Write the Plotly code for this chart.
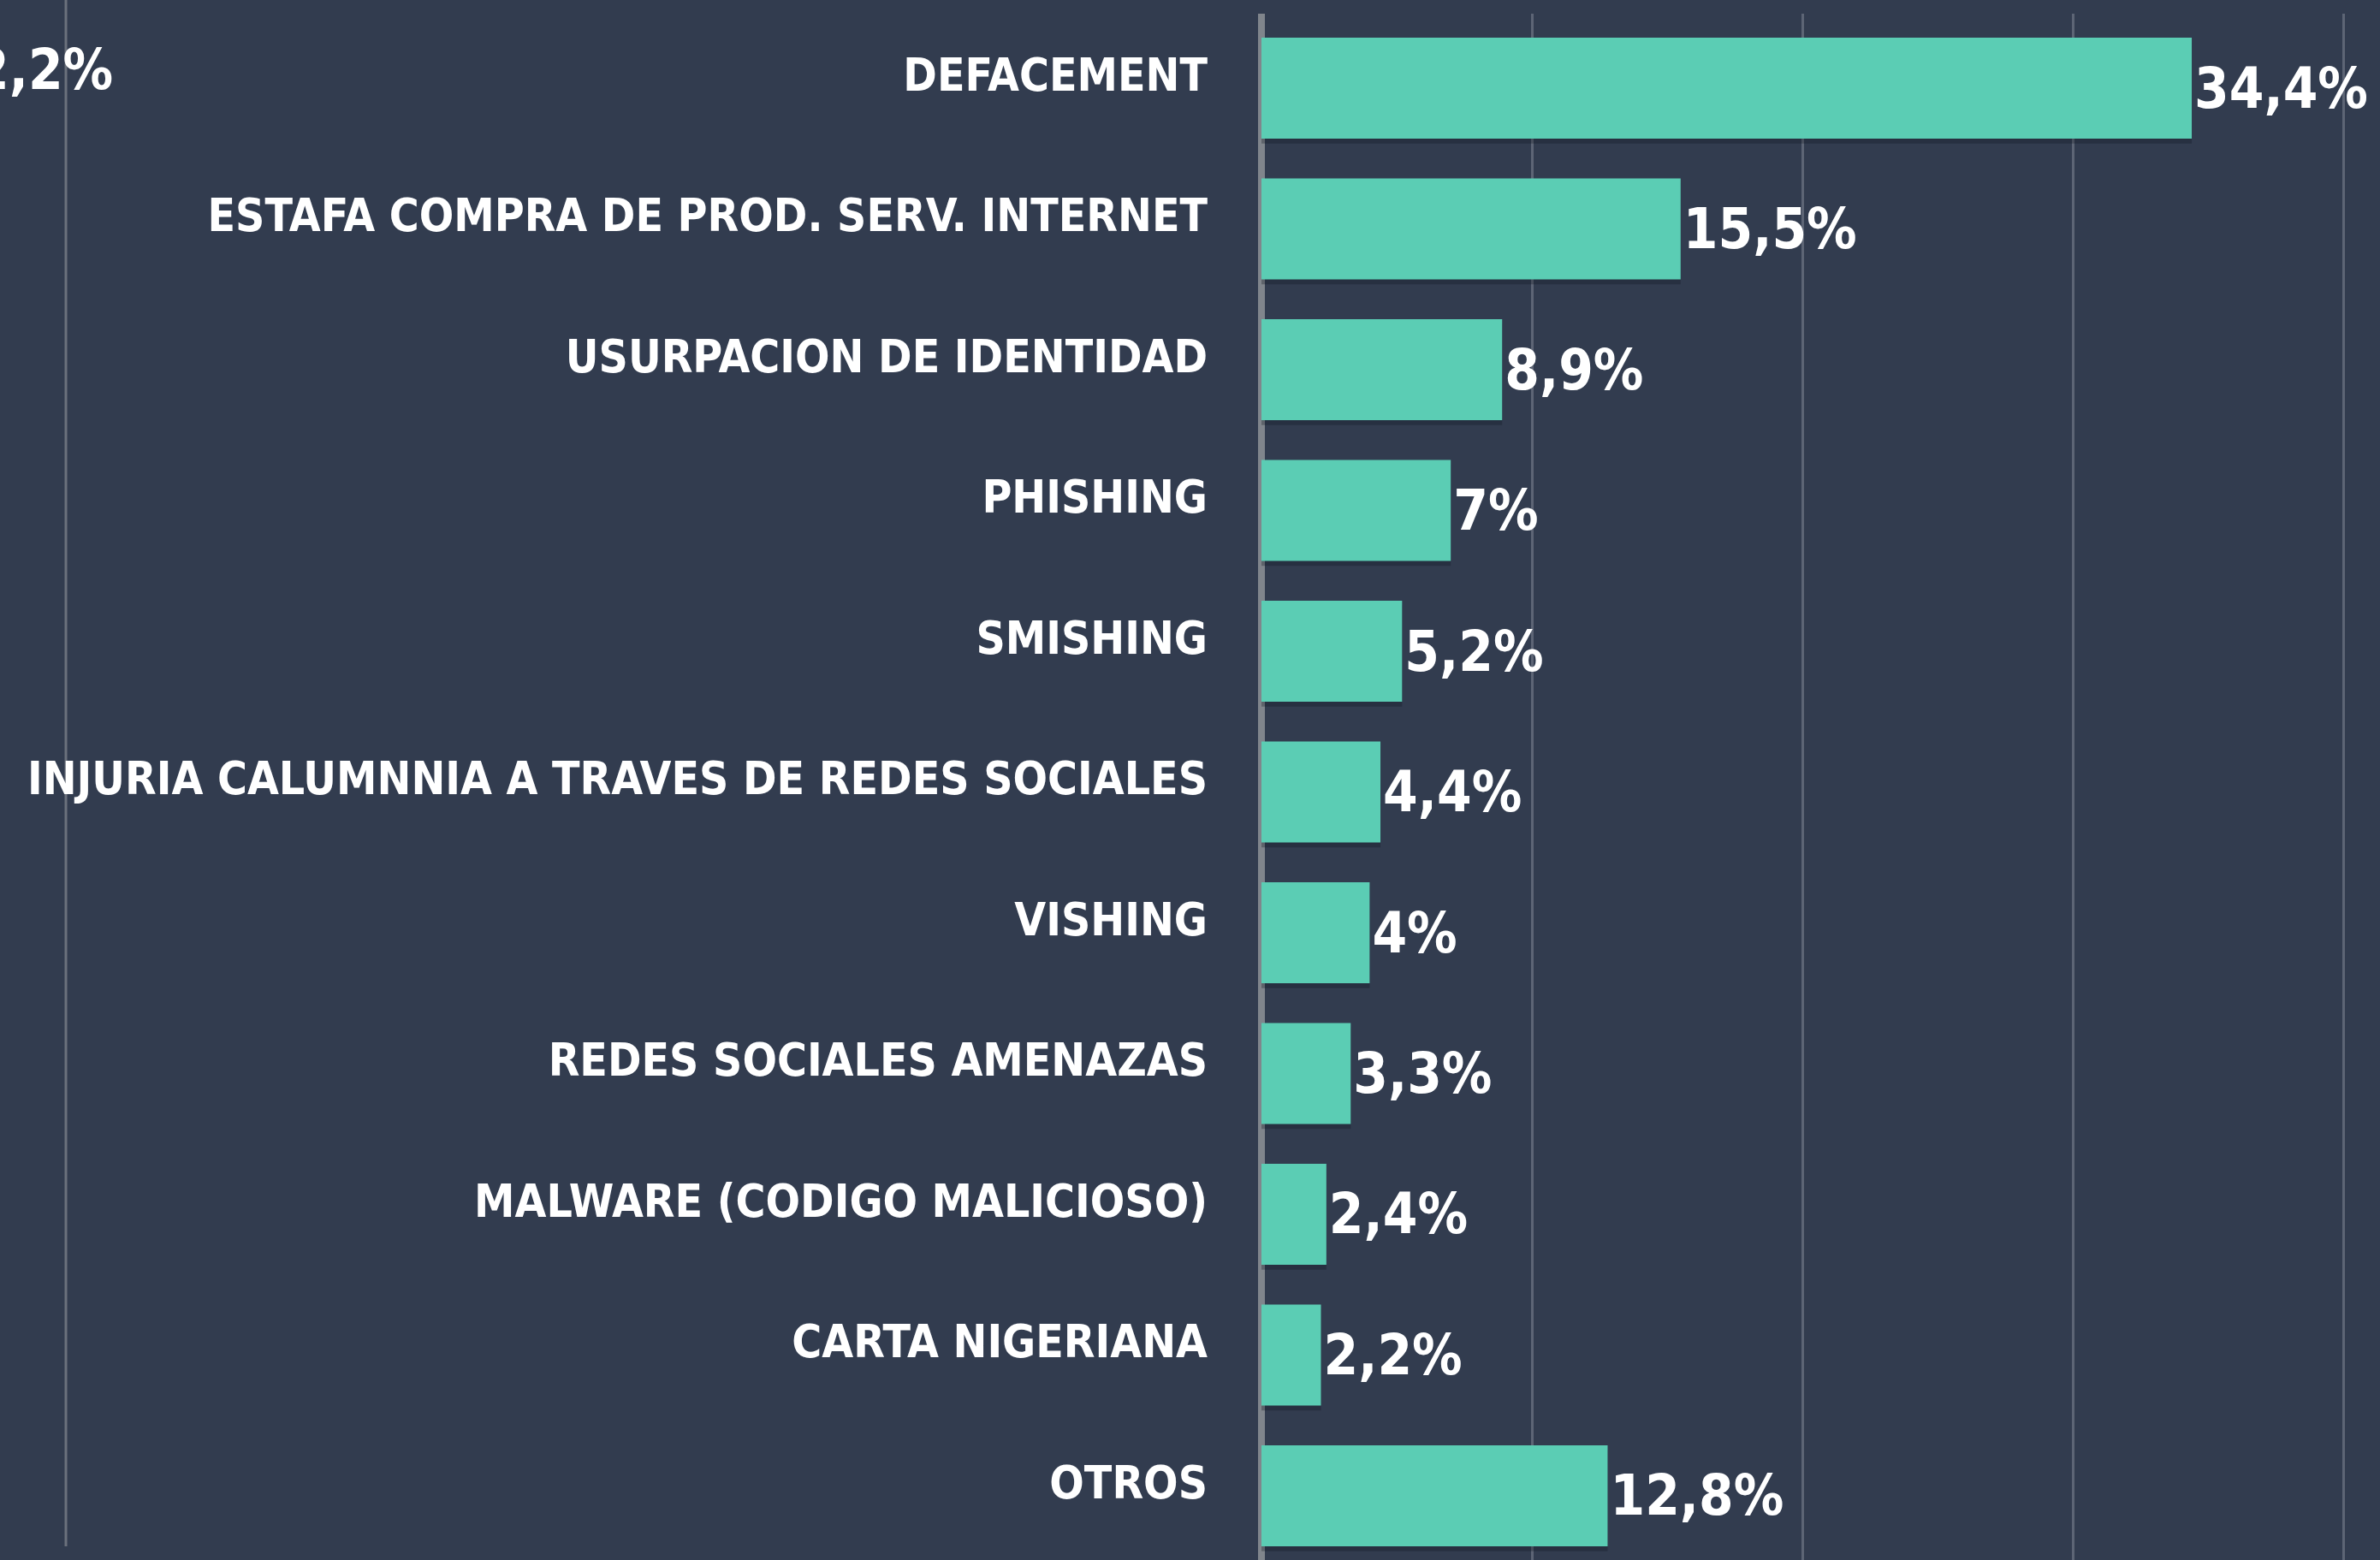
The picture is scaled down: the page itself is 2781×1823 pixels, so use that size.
import plotly.graph_objects as go

categories = [
    "DEFACEMENT",
    "ESTAFA COMPRA DE PROD. SERV. INTERNET",
    "USURPACION DE IDENTIDAD",
    "PHISHING",
    "SMISHING",
    "INJURIA CALUMNNIA A TRAVES DE REDES SOCIALES",
    "VISHING",
    "REDES SOCIALES AMENAZAS",
    "MALWARE (CODIGO MALICIOSO)",
    "CARTA NIGERIANA",
    "OTROS",
]
values = [34.4, 15.5, 8.9, 7, 5.2, 4.4, 4, 3.3, 2.4, 2.2, 12.8]
value_labels = ["34,4%", "15,5%", "8,9%", "7%", "5,2%", "4,4%", "4%", "3,3%", "2,4%", "2,2%", "12,8%"]
x_ticks = [0, 10, 20, 30, 40]
side_label = "2,2%"

BG = "#323c4f"
BAR = "#5bcdb4"
FONT = "Liberation Sans Narrow, DejaVu Sans Condensed, Arial Narrow, sans-serif"

W, H = 2781, 1823
ML, MT = 1420, 16
plot_w = W - ML
plot_h = H - MT
BW = 0.717

fig = go.Figure()
# soft shadow under the bars
fig.add_trace(go.Bar(
    y=categories,
    x=values,
    orientation="h",
    marker=dict(color="rgba(18,22,32,0.3)", line=dict(width=0)),
    width=BW,
    offset=-BW / 2 + 0.035,
    hoverinfo="skip",
))
fig.add_trace(go.Bar(
    y=categories,
    x=values,
    orientation="h",
    marker=dict(color=BAR, line=dict(width=0)),
    width=BW,
    offset=-BW / 2,
    text=value_labels,
    textposition="outside",
    textfont=dict(family=FONT, size=65, color="white", weight="bold"),
    constraintext="none",
    cliponaxis=False,
    hoverinfo="skip",
))

# decoration from the neighbouring panel at the far left
fig.add_shape(type="line", xref="paper", yref="paper",
              x0=(77 - ML) / plot_w, x1=(77 - ML) / plot_w,
              y0=(H - 1807) / plot_h, y1=1 + MT / plot_h,
              line=dict(color="#6b717c", width=3), layer="below")
fig.add_annotation(text=side_label, xref="paper", yref="paper",
                   x=(134 - ML) / plot_w, y=1 - (82 - MT) / plot_h,
                   xanchor="right", yanchor="middle", showarrow=False,
                   font=dict(family=FONT, size=65, color="white", weight="bold"))

fig.update_layout(
    width=W, height=H,
    margin=dict(l=ML, r=0, t=MT, b=0, autoexpand=False),
    paper_bgcolor=BG, plot_bgcolor=BG,
    showlegend=False,
    barmode="overlay",
    xaxis=dict(
        range=[-54 / 31.6, (W - ML - 54) / 31.6],
        tickvals=x_ticks,
        showticklabels=False,
        showgrid=True, gridcolor="#5d6575", gridwidth=3,
        zeroline=True, zerolinecolor="#80858c", zerolinewidth=8,
        showline=False, ticks="",
        automargin=False,
    ),
    yaxis=dict(
        type="category",
        categoryorder="array", categoryarray=categories,
        range=[10.456, -0.529],
        showgrid=False, zeroline=False, showline=False, ticks="",
        tickfont=dict(family=FONT, size=53, color="white", weight="bold"),
        ticklabelstandoff=8,
        ticklabelshift=16,
        automargin=False,
    ),
)

fig.write_html(
    "out.html",
    config={"displayModeBar": False},
    post_script="document.body.style.margin='0';document.body.style.overflow='hidden';",
)
